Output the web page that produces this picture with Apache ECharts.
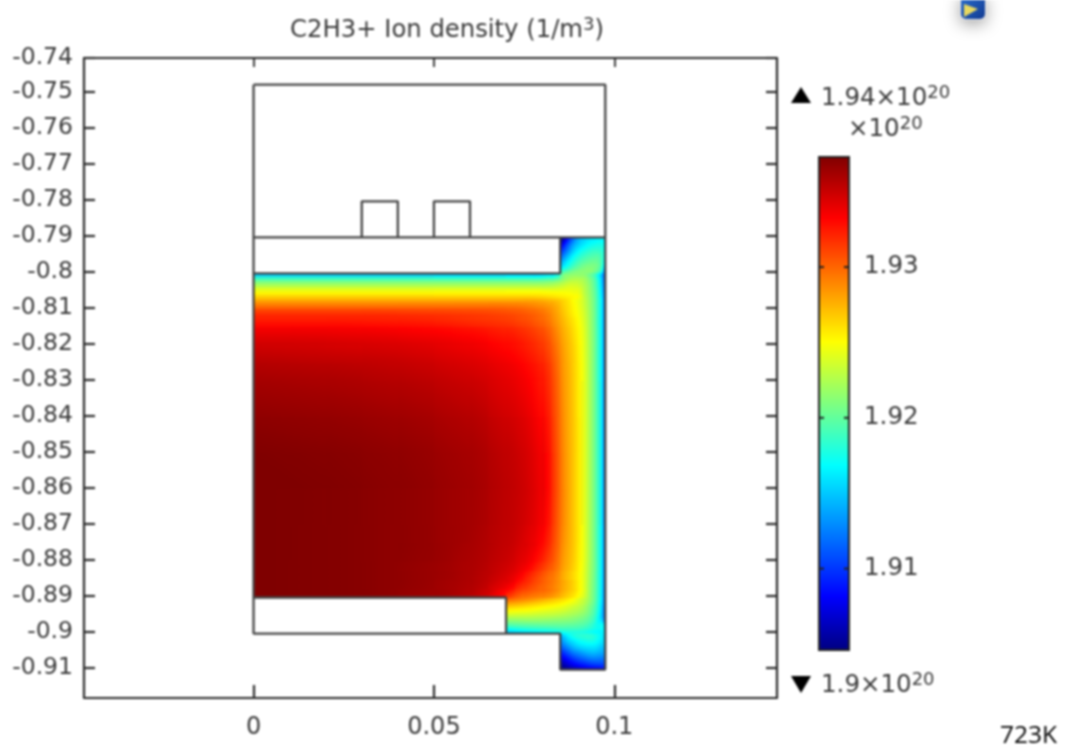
<!DOCTYPE html>
<html>
<head>
<meta charset="utf-8">
<style>html,body{margin:0;padding:0;background:#fff}#c{width:1065px;height:751px;filter:blur(0.8px)}</style>
<script src="https://cdn.jsdelivr.net/npm/echarts@6/dist/echarts.min.js"></script>
</head>
<body>
<div id="c"></div>
<script>
// Plot axes
const xTicks = [0, 0.05, 0.1];
const yTicks = [-0.7407,-0.75,-0.76,-0.77,-0.78,-0.79,-0.8,-0.81,-0.82,-0.83,-0.84,-0.85,-0.86,-0.87,-0.88,-0.89,-0.9,-0.91];
const barTicks = [1.91, 1.92, 1.93];
const densityMin = 1.9046, densityMax = 1.9373;
// Density: value = 1.90 + n * 1e-4 (x 1e20 per m3)
const densityBase = 1.9, densityUnit = 1e-4;
// Cell edges, metres
const xEdgesAll = [0,.01,.02,.03,.04,.05,.055,.06,.065,.07,.0725,.075,.0775,.08,.0825,.085,.0865,.088,.0895,.091,.0925,.094,.095,.096,.0968,.0975];
const yEdgesTopLeg = [-.7905,-.792,-.7935,-.795,-.7965,-.798,-.7995,-.8005];
const yEdgesMain = [-.8005,-.8015,-.8025,-.8035,-.8045,-.8055,-.8065,-.8075,-.8085,-.8105,-.8125,-.8155,-.8205,-.8255,-.8305,-.8405,-.8505,-.8605,-.8705,-.8755,-.8805,-.883,-.8855,-.888,-.8905];
const yEdgesChannel = [-.8905,-.8915,-.8925,-.8935,-.8945,-.8955,-.8965,-.8975,-.8985,-.8995,-.9005];
const yEdgesLowLeg = [-.9005,-.902,-.9035,-.905,-.9065,-.908,-.9095,-.9105];
// Columns 15..24
const topLeg = [
[60,95,125,145,155,162,165,168,168,165],
[85,115,140,155,165,172,175,177,176,170],
[105,130,153,168,177,183,186,186,183,174],
[125,148,168,180,188,193,195,195,188,176],
[145,165,180,191,198,202,203,200,190,170],
[165,180,193,202,208,210,208,202,188,155],
[190,200,208,212,213,212,205,195,175,130]];
// Columns 0..24
const mainBody = [
[154,154,154,154,154,154,154,154,154,154,154,154,154,160,170,205,213,216,216,214,204,192,173,150,115],
[187,187,187,187,187,187,187,187,187,187,187,187,187,190,195,212,220,224,224,220,208,195,176,152,118],
[210,210,210,210,210,210,210,210,210,210,210,210,210,212,216,224,230,232,230,223,211,197,179,154,120],
[226,226,226,226,226,226,226,226,226,226,226,226,226,226,229,234,238,238,235,226,213,198,180,156,122],
[242,242,242,242,242,242,242,242,242,242,242,242,242,241,241,243,244,243,240,228,214,200,182,158,124],
[253,253,253,253,253,253,253,253,253,253,253,253,253,252,251,250,249,247,243,229,215,201,183,160,126],
[265,265,265,265,265,265,265,265,265,265,265,265,264,262,259,256,254,251,246,231,216,202,184,162,128],
[278,278,278,278,278,278,278,278,278,278,278,278,277,274,270,264,258,250,243,232,217,203,185,165,130],
[295,295,295,295,295,295,295,295,295,294,293,291,288,284,277,267,260,252,244,233,218,203,185,165,130],
[315,315,315,315,314,313,312,311,309,307,305,302,298,292,281,270,262,254,246,235,219,204,185,165,130],
[326,326,326,325,324,322,320,318,316,314,311,308,303,297,285,274,266,258,249,237,220,204,185,165,130],
[341,341,340,339,337,335,333,331,327,325,322,318,313,306,292,279,271,262,252,239,221,205,186,165,130],
[351,350,349,348,346,343,341,339,335,332,329,325,320,313,298,283,274,265,254,240,222,205,186,165,130],
[358,357,356,354,352,349,347,345,341,338,335,331,326,319,302,285,276,266,255,241,222,205,186,165,130],
[364,363,362,360,358,355,353,351,346,343,340,336,330,323,305,287,277,267,255,241,222,205,186,165,130],
[370,369,368,366,364,361,359,357,352,349,346,342,336,329,308,289,278,268,256,241,222,205,186,165,130],
[373,372,371,369,367,364,362,360,355,352,349,345,339,332,310,290,279,268,256,241,222,205,186,165,130],
[373,372,371,369,367,364,362,360,355,352,349,345,339,331,309,290,279,268,256,241,222,205,186,165,130],
[373,372,371,369,367,364,362,359,354,351,347,342,336,326,306,288,278,268,256,241,222,205,186,165,130],
[373,372,371,369,367,364,361,358,353,349,344,339,331,319,302,285,276,267,255,241,222,205,186,165,130],
[373,372,371,369,366,363,360,357,351,346,340,333,322,310,297,282,274,265,254,240,221,205,186,165,130],
[373,372,371,369,366,363,360,356,349,342,334,323,312,301,291,278,270,262,252,239,220,204,185,165,130],
[373,372,371,369,366,362,359,355,345,336,324,315,306,298,289,279,272,264,253,239,219,203,185,164,130],
[373,372,371,369,365,362,358,352,338,320,308,302,297,293,285,275,268,261,251,238,218,202,184,163,128]];
// Columns 9..24
const channel = [
[298,292,287,281,275,268,262,256,249,240,230,216,201,183,162,128],
[282,278,273,268,263,258,253,248,243,236,227,213,199,181,160,127],
[267,264,260,256,252,248,244,240,235,230,222,209,196,179,157,125],
[253,251,249,246,243,240,237,233,229,225,218,206,193,177,155,123],
[240,239,238,236,234,232,229,226,223,219,213,203,191,174,153,122],
[226,226,226,225,224,222,220,218,215,212,207,198,187,171,152,125],
[212,213,214,214,213,212,211,210,208,205,201,194,184,170,160,135],
[197,199,200,201,202,202,202,201,200,198,195,188,179,172,170,155],
[178,182,185,187,188,190,191,191,191,190,187,182,176,172,170,160],
[155,160,164,167,170,173,176,179,180,180,178,174,170,168,165,160]];
// Columns 15..24
const lowLeg = [
[150,165,175,180,182,182,178,172,165,155],
[135,150,160,168,172,174,172,167,160,152],
[118,132,145,153,158,160,160,156,150,145],
[98,112,125,133,140,145,146,143,140,135],
[80,92,104,113,120,126,128,127,125,122],
[62,74,84,92,98,104,107,108,108,106],
[50,58,66,72,78,82,85,86,88,88]];
// Geometry outlines (x, y pairs in metres)
const outlinePaths = [
[[0,-.7481],[.0975,-.7481],[.0975,-.9105],[.085,-.9105],[.085,-.9005],[0,-.9005],[0,-.7481]],
[[0,-.8905],[.07,-.8905],[.07,-.9005]],
[[0,-.7905],[.0975,-.7905]],
[[.085,-.7905],[.085,-.8005],[0,-.8005]],
[[.03,-.7905],[.03,-.7805],[.04,-.7805],[.04,-.7905]],
[[.05,-.7905],[.05,-.7805],[.06,-.7805],[.06,-.7905]]];
// Rainbow colour table
const jetColors = ['#00007f','#0000ff','#00ffff','#ffff00','#ff0000','#7f0000'];
const jetStops = [0,.11,.375,.625,.875,1];

// One table of all cells; cells outside the domain stay null
const yEdgesAll = yEdgesTopLeg.concat(yEdgesMain.slice(1), yEdgesChannel.slice(1), yEdgesLowLeg.slice(1));
const grid2d = yEdgesAll.slice(1).map(() => new Array(25).fill(null));
const fieldData = [];
function cells(firstRow, rows, firstCol) {
  rows.forEach((row, j) => row.forEach((n, i) => {
    const r = firstRow + j, c = firstCol + i, v = densityBase + n*densityUnit;
    grid2d[r][c] = v;
    fieldData.push([xEdgesAll[c], xEdgesAll[c+1], yEdgesAll[r], yEdgesAll[r+1], v, r, c]);
  }));
}
cells(0, topLeg, 15);
cells(7, mainBody, 0);
cells(31, channel, 9);
cells(41, lowLeg, 15);

function jet(v) {
  const t = Math.min(1, Math.max(0, (v - densityMin)/(densityMax - densityMin)));
  let k = 0;
  while (k < jetStops.length - 2 && t > jetStops[k+1]) k++;
  return echarts.color.lerp((t - jetStops[k])/(jetStops[k+1] - jetStops[k]), [jetColors[k], jetColors[k+1]]);
}
// Slope of the field across a cell in pixels, from the neighbouring typed cells
function slope(a, b, centreA, centreB) { return (b - a)/(centreB - centreA); }
function cellFill(api, x0, y0, x1, y1, r, c) {
  const mid = (e, i) => (e[i] + e[i+1])/2;
  const v = grid2d[r][c], cx = (x0+x1)/2, cy = (y0+y1)/2;
  const px = i => api.coord([mid(xEdgesAll,i), 0])[0];
  const py = j => api.coord([0, mid(yEdgesAll,j)])[1];
  const L = c > 0 ? grid2d[r][c-1] : null, R = c < 24 ? grid2d[r][c+1] : null;
  const U = r > 0 ? grid2d[r-1][c] : null, D = r < grid2d.length-1 ? grid2d[r+1][c] : null;
  let gx = 0, gy = 0;
  if (L !== null && R !== null) gx = slope(L, R, px(c-1), px(c+1));
  else if (L !== null) gx = slope(L, v, px(c-1), px(c));
  else if (R !== null) gx = slope(v, R, px(c), px(c+1));
  if (U !== null && D !== null) gy = slope(U, D, py(r-1), py(r+1));
  else if (U !== null) gy = slope(U, v, py(r-1), py(r));
  else if (D !== null) gy = slope(v, D, py(r), py(r+1));
  const g = Math.hypot(gx, gy);
  if (g < 1e-9) return jet(v);
  const ux = gx/g, uy = gy/g, reach = Math.hypot(x1-x0, y1-y0)/2;
  const stops = [];
  for (let s = 0; s <= 6; s++) stops.push({offset:s/6, color:jet(v + (s/3 - 1)*reach*g)});
  return new echarts.graphic.LinearGradient(cx-ux*reach, cy-uy*reach, cx+ux*reach, cy+uy*reach, stops, true);
}
const outlineData = [];
outlinePaths.forEach(p => { p.forEach(q => outlineData.push(q)); outlineData.push([null,null]); });

const FONT = 'DejaVu Sans';
const tc = '#3a3a3a';
const ink = '#2a2a2a';
const sup = {sup:{fontSize:18,fontFamily:FONT,fill:tc,color:tc,verticalAlign:'top',padding:[0,0,12,0]}};
function legendText(x, y, s) {
  return {type:'text', left:x, top:y, z:20, style:{text:s, rich:sup, fontFamily:FONT, fontSize:24.5, fill:tc}};
}
const frame = {onZero:false,lineStyle:{color:ink,width:2.2}};
const chart = echarts.init(document.getElementById('c'));
chart.setOption({
  animation:false,
  backgroundColor:'#fff',
  title:{text:'C2H3+ Ion density (1/m{sup|3})', left:285, top:11,
    textStyle:{fontFamily:FONT,fontSize:24.3,fontWeight:'normal',color:tc,rich:sup}},
  grid:[
    {left:84,top:58,width:693,height:640,show:false},
    {left:819,top:157,width:30,height:493,show:false}],
  xAxis:[
    {type:'value',gridIndex:0,min:-0.047,max:0.1451,position:'bottom',splitLine:{show:false},
     axisLine:frame,axisTick:{customValues:xTicks,inside:true,length:13,lineStyle:{color:ink,width:2.2}},
     axisLabel:{customValues:xTicks,fontFamily:FONT,fontSize:24,color:tc,margin:18,formatter:v=>String(+v.toFixed(2))}},
    {type:'value',gridIndex:0,min:-0.047,max:0.1451,position:'top',splitLine:{show:false},
     axisLine:frame,axisTick:{customValues:xTicks,inside:true,length:9,lineStyle:{color:ink,width:1.8}},axisLabel:{show:false}},
    {type:'value',gridIndex:1,min:0,max:1,show:false}],
  yAxis:[
    {type:'value',gridIndex:0,min:-0.9184,max:-0.7407,position:'left',splitLine:{show:false},
     axisLine:frame,axisTick:{customValues:yTicks,inside:true,length:11,lineStyle:{color:ink,width:2.2}},
     axisLabel:{customValues:yTicks,fontFamily:FONT,fontSize:23.5,color:tc,margin:11,formatter:v=>String(+v.toFixed(2))}},
    {type:'value',gridIndex:0,min:-0.9184,max:-0.7407,position:'right',splitLine:{show:false},
     axisLine:frame,axisTick:{customValues:yTicks,inside:true,length:11,lineStyle:{color:ink,width:2.2}},axisLabel:{show:false}},
    {type:'value',gridIndex:1,min:densityMin,max:densityMax,position:'right',splitLine:{show:false},
     axisLine:{show:false},axisTick:{show:false},
     axisLabel:{customValues:barTicks,fontFamily:FONT,fontSize:24.5,color:tc,margin:15,formatter:v=>v.toFixed(2)}}],
  series:[
    {type:'custom',xAxisIndex:0,yAxisIndex:0,silent:true,z:2,clip:true,data:fieldData,
     encode:{x:[0,1],y:[2,3]},
     renderItem:(p,api)=>{
       const a=api.coord([api.value(0),api.value(2)]), b=api.coord([api.value(1),api.value(3)]);
       const x0=Math.round(a[0]),x1=Math.round(b[0]),y0=Math.round(a[1]),y1=Math.round(b[1]);
       return {type:'rect',shape:{x:x0,y:y0,width:x1-x0,height:y1-y0},
         style:{fill:cellFill(api,a[0],a[1],b[0],b[1],api.value(5),api.value(6))}};
     }},
    {type:'line',xAxisIndex:0,yAxisIndex:0,z:5,silent:true,showSymbol:false,connectNulls:false,
     lineStyle:{color:'#444',width:2.3},data:outlineData},
    {type:'custom',xAxisIndex:2,yAxisIndex:2,silent:true,z:3,data:[[0,1,densityMin,densityMax]],
     encode:{x:[0,1],y:[2,3]},
     renderItem:(p,api)=>{
       const a=api.coord([api.value(0),api.value(3)]), b=api.coord([api.value(1),api.value(2)]);
       const kids=[{type:'rect',shape:{x:a[0],y:a[1],width:b[0]-a[0],height:b[1]-a[1]},
         style:{stroke:'#222',lineWidth:2,fill:new echarts.graphic.LinearGradient(0,1,0,0,
           jetStops.map((s,i)=>({offset:s,color:jetColors[i]})))}}];
       barTicks.forEach(t=>{
         const y=api.coord([0,t])[1];
         kids.push({type:'line',shape:{x1:a[0],y1:y,x2:a[0]+5,y2:y},style:{stroke:'#222',lineWidth:2}});
         kids.push({type:'line',shape:{x1:b[0]-5,y1:y,x2:b[0],y2:y},style:{stroke:'#222',lineWidth:2}});
       });
       return {type:'group',children:kids};
     }}
  ],
  graphic:[
    {type:'polygon',z:20,shape:{points:[[801,87],[811,103],[791,103]]},style:{fill:'#000'}},
    legendText(821,84,'1.94×10{sup|20}'),
    legendText(848,115,'×10{sup|20}'),
    {type:'polygon',z:20,shape:{points:[[791,676],[811,676],[801,693]]},style:{fill:'#000'}},
    legendText(821,671,'1.9×10{sup|20}'),
    {type:'text',left:1000,top:724,z:20,style:{text:'723K',fontFamily:'Open Sans',fontSize:24.5,fill:'#000'}},
    {type:'rect',z:18,shape:{x:960,y:-6,width:26,height:26,r:5},
     style:{fill:'#e4e4e4',shadowBlur:16,shadowColor:'rgba(130,130,130,.75)',shadowOffsetY:4}},
    {type:'rect',z:19,shape:{x:961,y:-6,width:24,height:25,r:5},
     style:{fill:new echarts.graphic.LinearGradient(0,0,1,1,[{offset:0,color:'#2a6fd0'},{offset:1,color:'#123a90'}])}},
    {type:'polygon',z:20,shape:{points:[[964,4],[964,17],[978,9]]},style:{fill:'#e8d860'}}
  ]
});
</script>
</body>
</html>
